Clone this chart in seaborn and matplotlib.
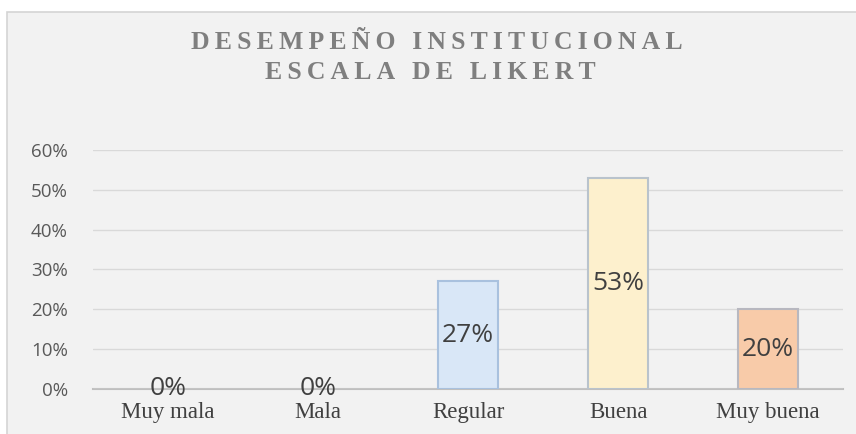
import matplotlib
matplotlib.use("Agg")
import matplotlib.pyplot as plt
import seaborn as sns
import pandas as pd
from matplotlib.ticker import FuncFormatter
from matplotlib.patches import Rectangle

categories = ["Muy mala", "Mala", "Regular", "Buena", "Muy buena"]
values = [0.0, 0.0, 0.27, 0.53, 0.20]
value_labels = ["0%", "0%", "27%", "53%", "20%"]
yticks = [0.0, 0.1, 0.2, 0.3, 0.4, 0.5, 0.6]
title_lines = ["DESEMPEÑO INSTITUCIONAL", "ESCALA DE LIKERT"]

bar_colors = ["#d9e7f7", "#d9e7f7", "#d9e7f7", "#fdf0cd", "#f8cba9"]
edge_colors = ["#a9c1de", "#a9c1de", "#a9c1de", "#b9c3cc", "#b8b8c0"]

sns.set_style("white")
plt.rcParams['font.family'] = ['DejaVu Sans']

df = pd.DataFrame({"cat": categories, "val": values})

fig = plt.figure(figsize=(8.56, 4.34), dpi=100)
fig.patch.set_facecolor("white")
fig.patches.append(Rectangle((7 / 856, -0.01), 1.0, (434 - 12) / 434 + 0.01,
                             transform=fig.transFigure, facecolor="#f2f2f2",
                             edgecolor="#d4d4d4", linewidth=1.2, zorder=-10))
ax = fig.add_axes([0.1086, 0.1037, 0.8764, 0.5507])
ax.patch.set_alpha(0)

sns.barplot(data=df, x="cat", y="val", hue="cat", palette=bar_colors,
            legend=False, width=0.4, ax=ax, linewidth=1.5, saturation=1)
for patch, ec, v in zip(ax.patches, edge_colors, values):
    patch.set_edgecolor(ec)
    if v == 0:
        patch.set_linewidth(0)

ax.set_ylim(0, 0.6)
ax.set_xlim(-0.5, 4.5)
ax.set_yticks(yticks)
ax.yaxis.set_major_formatter(FuncFormatter(lambda v, p: f"{v*100:.0f}%"))
ax.grid(axis="y", color="#d9d9d9", linewidth=1)
ax.set_axisbelow(True)
for s in ["top", "right", "left"]:
    ax.spines[s].set_visible(False)
ax.spines["bottom"].set_color("#bfbfbf")
ax.spines["bottom"].set_linewidth(1.5)
ax.spines["bottom"].set_zorder(0.5)
ax.tick_params(axis="both", length=0)
ax.tick_params(axis="y", labelsize=13.5, labelcolor="#595959", pad=18)
ax.tick_params(axis="x", labelsize=16.5, labelcolor="#404040", pad=9.5)
for lbl in ax.get_xticklabels():
    lbl.set_family("Liberation Serif")
for lbl in ax.get_yticklabels():
    lbl.set_family("Open Sans")
ax.set_xlabel("")
ax.set_ylabel("")

for i, (v, t) in enumerate(zip(values, value_labels)):
    ax.text(i, v / 2, t, ha="center", va="center", fontsize=19,
            color="#404040", family="Open Sans")

sp = "\u2009"
for k, (line, y) in enumerate(zip(title_lines, [0.902, 0.834])):
    spaced = sp.join(list(line))
    fig.text(437 / 856 if k == 0 else 430 / 856, y, spaced, ha="center", va="center",
             fontsize=18.5, fontweight="bold", color="#7f7f7f",
             family=["Liberation Serif", "DejaVu Serif"])

fig.savefig("out.png", dpi=100, facecolor=fig.get_facecolor())
